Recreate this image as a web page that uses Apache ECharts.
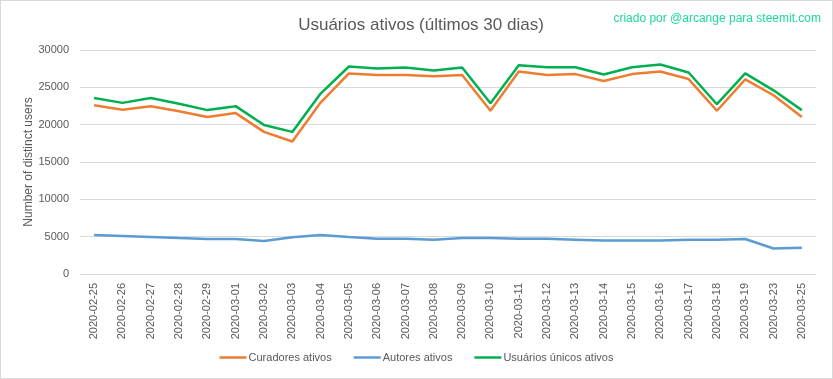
<!DOCTYPE html>
<html>
<head>
<meta charset="utf-8">
<script src="https://cdn.jsdelivr.net/npm/echarts@6/dist/echarts.min.js"></script>
<style>
html,body{margin:0;padding:0;background:#fff;}
#c{width:833px;height:379px;box-sizing:border-box;border:1px solid #d9d9d9;}
</style>
</head>
<body>
<div id="c"></div>
<script>
const categories = ["2020-02-25","2020-02-26","2020-02-27","2020-02-28","2020-02-29","2020-03-01","2020-03-02","2020-03-03","2020-03-04","2020-03-05","2020-03-06","2020-03-07","2020-03-08","2020-03-09","2020-03-10","2020-03-11","2020-03-12","2020-03-13","2020-03-14","2020-03-15","2020-03-16","2020-03-17","2020-03-18","2020-03-19","2020-03-23","2020-03-25"];
const curadores = [22610,21990,22480,21810,21020,21550,19030,17740,22960,26860,26640,26640,26500,26640,21860,27120,26640,26770,25840,26770,27120,26110,21860,26060,23940,21020];
const autores = [5220,5090,4960,4820,4690,4690,4420,4910,5220,4960,4730,4730,4600,4820,4820,4730,4730,4600,4470,4470,4470,4600,4600,4690,3410,3500];
const unicos = [23560,22920,23560,22800,21950,22480,19960,19030,24160,27790,27520,27650,27260,27650,22880,27960,27700,27700,26730,27700,28050,26990,22740,26860,24600,21950];
const seriesNames = ["Curadores ativos","Autores ativos","Usuários únicos ativos"];
const yTicks = {min:0,max:30000,interval:5000};

const chart = echarts.init(document.getElementById('c'), null, {renderer:'canvas'});
const font = 'Liberation Sans, Arial, sans-serif';
chart.setOption({
  animation:false,
  backgroundColor:'#fff',
  title:[{
    text:'Usuários ativos (últimos 30 dias)',
    left:415, top:11, textAlign:'center',
    textStyle:{fontFamily:font,fontSize:17,fontWeight:'normal',color:'#595959'}
  },{
    text:'criado por @arcange para steemit.com',
    right:6, top:7,
    textStyle:{fontFamily:font,fontSize:12,fontWeight:'normal',color:'#1ed6a0'}
  }],
  legend:{
    data:seriesNames,
    bottom:10, left:'center',
    icon:'rect', itemWidth:27, itemHeight:2.5, itemGap:22,
    textStyle:{fontFamily:font,fontSize:11,color:'#595959',padding:[0,0,0,-3]}
  },
  grid:{left:79,right:16,top:49,bottom:104},
  xAxis:{
    type:'category', data:categories, boundaryGap:true,
    axisLine:{show:true,lineStyle:{color:'#d9d9d9'}},
    axisTick:{show:false},
    axisLabel:{rotate:90,fontFamily:font,fontSize:11,color:'#595959',margin:9,interval:0}
  },
  yAxis:{
    type:'value', min:yTicks.min, max:yTicks.max, interval:yTicks.interval,
    name:'Number of distinct users', nameLocation:'middle', nameGap:45, nameRotate:90,
    nameMoveOverlap:false,
    nameTextStyle:{fontFamily:font,fontSize:12,color:'#595959'},
    axisLine:{show:false}, axisTick:{show:false},
    splitLine:{lineStyle:{color:'#d9d9d9'}},
    axisLabel:{fontFamily:font,fontSize:11,color:'#595959',margin:11,formatter:function(v){return String(v);}}
  },
  series:[
    {name:seriesNames[0],type:'line',data:curadores,symbol:'none',lineStyle:{color:'#ED7D31',width:2.5},itemStyle:{color:'#ED7D31'}},
    {name:seriesNames[1],type:'line',data:autores,symbol:'none',lineStyle:{color:'#5B9BD5',width:2.5},itemStyle:{color:'#5B9BD5'}},
    {name:seriesNames[2],type:'line',data:unicos,symbol:'none',lineStyle:{color:'#00B050',width:2.5},itemStyle:{color:'#00B050'}}
  ]
});
</script>
</body>
</html>
